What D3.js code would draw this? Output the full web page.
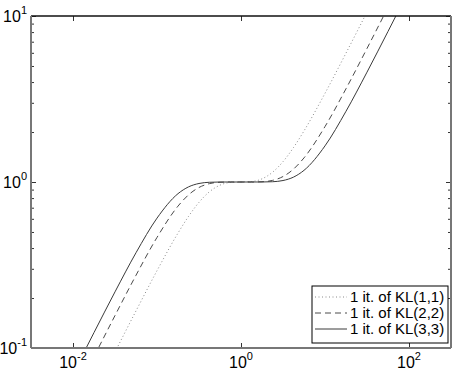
<!DOCTYPE html>
<html>
<head>
<meta charset="utf-8">
<script src="https://cdn.jsdelivr.net/npm/d3@7"></script>
<style>
  body { margin: 0; background: #fff; }
  text { font-family: "Liberation Sans", Arial, sans-serif; fill: #000; }
</style>
</head>
<body>
<svg id="chart" width="458" height="370"></svg>
<script>
// x positions (log spaced) and the curve values
var xs = [0.0031623, 0.0056234, 0.01, 0.017783, 0.031623, 0.056234, 0.1, 0.17783, 0.23714, 0.31623, 0.42170, 0.56234, 0.74989, 1,
          1.3335, 1.7783, 2.3714, 3.1623, 4.2170, 5.6234, 10, 17.783, 31.623, 56.234, 100, 177.83, 316.23];
var kl11 = [0.009487, 0.016868, 0.02999, 0.053304, 0.094616, 0.167293, 0.292233, 0.492395, 0.620127, 0.754082, 0.873879, 0.956981, 0.994177, 1,
            1.005857, 1.044953, 1.144324, 1.326116, 1.612573, 2.030889, 3.421927, 5.977536, 10.56904, 18.76032, 33.3444, 59.2838, 105.407];
var kl22 = [0.01581, 0.028109, 0.04996, 0.088691, 0.156862, 0.274262, 0.46343, 0.715662, 0.836287, 0.927089, 0.977972, 0.996554, 0.999883, 1,
            1.000117, 1.003458, 1.022524, 1.078646, 1.195762, 1.397307, 2.157823, 3.646149, 6.37503, 11.27509, 20.016, 35.5758, 63.251];
var kl33 = [0.022132, 0.039343, 0.069888, 0.123854, 0.217884, 0.374847, 0.605858, 0.850656, 0.93442, 0.979785, 0.996313, 0.999724, 0.999997, 1,
            1.000003, 1.000276, 1.003701, 1.020632, 1.070183, 1.175563, 1.650552, 2.667755, 4.589598, 8.074022, 14.30896, 25.4175, 45.183];
var seriesNames = ["1 it. of KL(1,1)", "1 it. of KL(2,2)", "1 it. of KL(3,3)"];
var xTicks = [0.01, 1, 100];
var xTickExp = ["-2", "0", "2"];
var yTicks = [0.1, 1, 10];
var yTickExp = ["-1", "0", "1"];

var L = 31, R = 451, T = 16, B = 348;
var svg = d3.select("#chart");

var x = d3.scaleLog().domain([Math.pow(10, -2.5), Math.pow(10, 2.5)]).range([L, R]);
var y = d3.scaleLog().domain([0.1, 10]).range([B, T]);

svg.append("defs").append("clipPath").attr("id", "clip")
  .append("rect").attr("x", L).attr("y", T).attr("width", R - L).attr("height", B - T);

var styles = [
  {data: kl11, stroke: "#8a8a8a", dash: "1,2.5", width: 1},
  {data: kl22, stroke: "#4a4a4a", dash: "6,4", width: 1},
  {data: kl33, stroke: "#3a3a3a", dash: null, width: 1}
];

var line = d3.line()
  .x(function(d) { return x(d[0]); })
  .y(function(d) { return y(d[1]); })
  .curve(d3.curveMonotoneX);

var g = svg.append("g").attr("clip-path", "url(#clip)");
styles.forEach(function(s) {
  g.append("path")
    .datum(xs.map(function(v, i) { return [v, s.data[i]]; }))
    .attr("d", line)
    .attr("fill", "none")
    .attr("stroke", s.stroke)
    .attr("stroke-width", s.width)
    .attr("stroke-dasharray", s.dash);
});

// minor ticks on y (2..9 each decade)
var yMinor = [];
[0.1, 1].forEach(function(d) { for (var k = 2; k <= 9; k++) yMinor.push(d * k); });

function drawAxis(ax, tr) {
  var a = svg.append("g").attr("transform", tr).call(ax);
  a.select(".domain").remove();
  a.selectAll("text").remove();
  a.selectAll("line").attr("stroke", "#333");
  return a;
}
drawAxis(d3.axisBottom(x).tickValues(xTicks).tickSize(-5), "translate(0," + B + ")");
drawAxis(d3.axisTop(x).tickValues(xTicks).tickSize(-5), "translate(0," + T + ")");
drawAxis(d3.axisLeft(y).tickValues(yTicks).tickSize(-5), "translate(" + L + ",0)");
drawAxis(d3.axisRight(y).tickValues(yTicks).tickSize(-5), "translate(" + R + ",0)");
drawAxis(d3.axisLeft(y).tickValues(yMinor).tickSize(-3), "translate(" + L + ",0)");
drawAxis(d3.axisRight(y).tickValues(yMinor).tickSize(-3), "translate(" + R + ",0)");

// box
svg.append("line").attr("x1", L).attr("x2", R).attr("y1", T).attr("y2", T).attr("stroke", "#111").attr("stroke-width", 1.5);
svg.append("line").attr("x1", L).attr("x2", R).attr("y1", B).attr("y2", B).attr("stroke", "#777").attr("stroke-width", 2);
svg.append("line").attr("x1", L).attr("x2", L).attr("y1", T).attr("y2", B).attr("stroke", "#777").attr("stroke-width", 2);
svg.append("line").attr("x1", R).attr("x2", R).attr("y1", T).attr("y2", B).attr("stroke", "#777").attr("stroke-width", 2);

// tick labels
xTicks.forEach(function(v, i) {
  var t = svg.append("text").attr("x", x(v)).attr("y", 368).attr("text-anchor", "middle").style("font-size", "16px");
  t.append("tspan").text("10");
  t.append("tspan").attr("dy", -8).style("font-size", "11px").text(xTickExp[i]);
});
yTicks.forEach(function(v, i) {
  var t = svg.append("text").attr("x", 27).attr("y", y(v) + 6).attr("text-anchor", "end").style("font-size", "16px");
  t.append("tspan").text("10");
  t.append("tspan").attr("dy", -8).style("font-size", "11px").text(yTickExp[i]);
});

// legend
var lg = svg.append("g");
lg.append("rect").attr("x", 312).attr("y", 286).attr("width", 136).attr("height", 57)
  .attr("fill", "#fff").attr("stroke", "#000").attr("stroke-width", 1);
styles.forEach(function(s, i) {
  var yy = 297 + i * 16;
  lg.append("line").attr("x1", 315).attr("x2", 347).attr("y1", yy).attr("y2", yy)
    .attr("stroke", s.stroke).attr("stroke-width", 1).attr("stroke-dasharray", s.dash);
  lg.append("text").attr("x", 350).attr("y", yy + 5).style("font-size", "15px").text(seriesNames[i]);
});
</script>
</body>
</html>
